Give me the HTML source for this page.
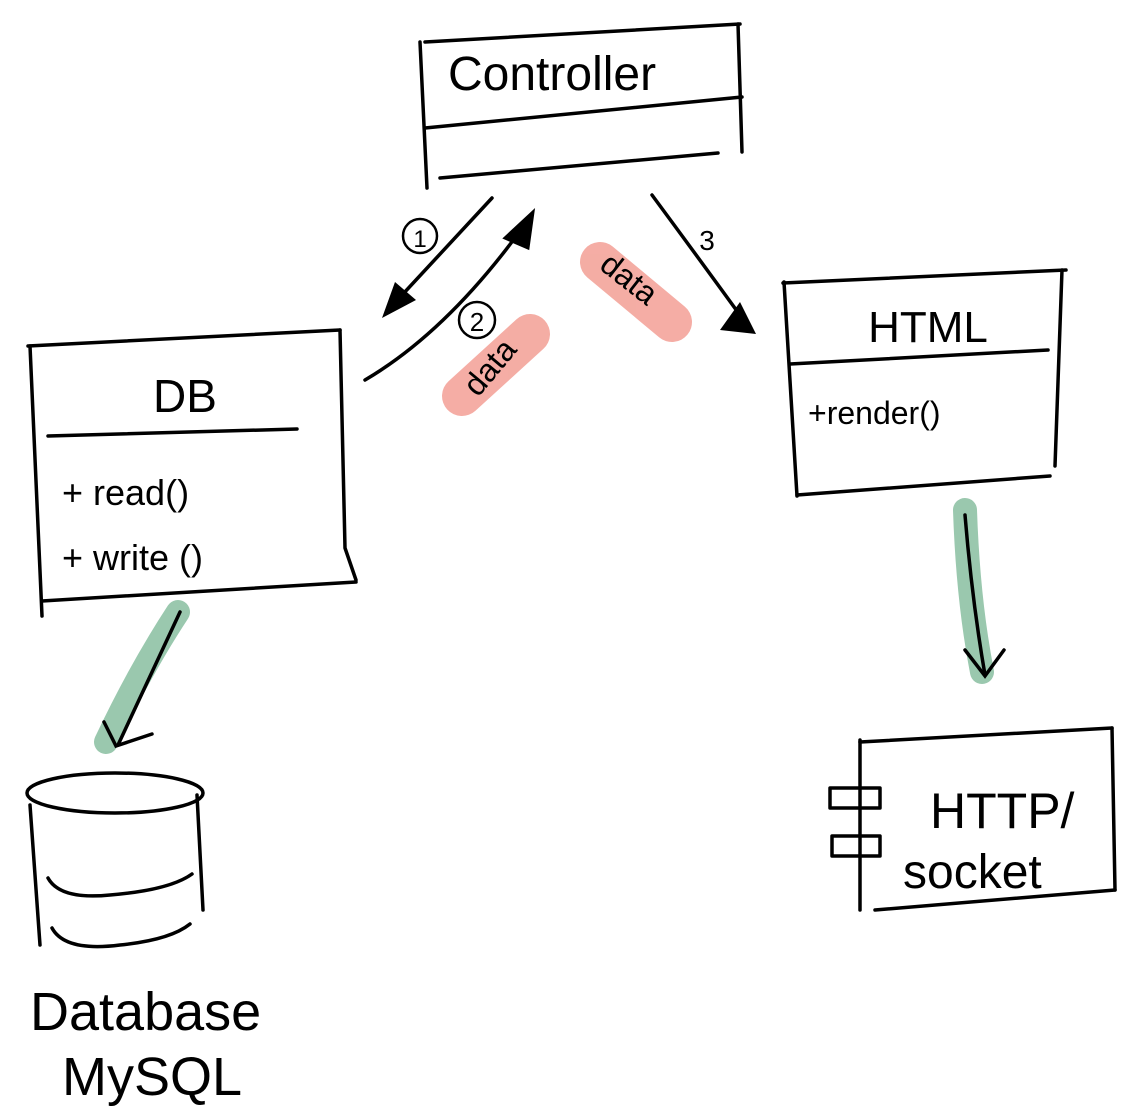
<!DOCTYPE html>
<html><head><meta charset="utf-8"><style>
html,body{margin:0;padding:0;background:#fff;}
svg{display:block}
text{font-family:"Liberation Sans",sans-serif;fill:#000}
</style></head><body>
<svg width="1144" height="1120" viewBox="0 0 1144 1120" xmlns="http://www.w3.org/2000/svg">
<rect width="1144" height="1120" fill="#fff"/>
<g fill="none" stroke="#000" stroke-width="3.5" stroke-linecap="round" stroke-linejoin="round">
<path d="M420 42 L427 188"/>
<path d="M425 42 L740 24"/>
<path d="M738 24 L742 152"/>
<path d="M425 128 L742 97"/>
<path d="M440 178 L718 153"/>
<path d="M783 283 L1066 270"/>
<path d="M784 282 L797 496"/>
<path d="M1062 270 L1055 466"/>
<path d="M790 364 L1048 350"/>
<path d="M797 495 L1050 476"/>
<path d="M28 346 L340 330"/>
<path d="M30 346 L42 616"/>
<path d="M340 330 L345 548 L356 580"/>
<path d="M48 436 L297 429"/>
<path d="M42 601 L356 582"/>
<path d="M492 198 L390 308"/>
<path d="M365 380 Q450 330 528 220"/>
<path d="M652 195 Q700 260 745 322"/>
<circle cx="420" cy="236" r="17" stroke-width="2.5"/>
<circle cx="477" cy="320" r="18" stroke-width="2.5"/>
<ellipse cx="115" cy="793" rx="88" ry="20"/>
<path d="M30 805 L40 945"/>
<path d="M197 795 L203 910"/>
<path d="M48 878 Q60 900 110 895 Q170 890 192 874"/>
<path d="M52 928 Q65 952 120 945 Q170 940 190 924"/>
<path d="M860 740 L860 910"/>
<path d="M860 742 L1112 728"/>
<path d="M1112 728 L1115 890"/>
<path d="M875 910 L1115 890"/>
<rect x="830" y="788" width="50" height="20"/>
<rect x="832" y="836" width="48" height="20"/>
</g>
<polygon points="382,318 395,282 416,300" fill="#000"/>
<polygon points="533,212 505,238 528,248" fill="#000" stroke="#000" stroke-width="3"/>
<polygon points="756,334 720,330 740,302" fill="#000"/>
<g stroke="#f4a9a0" stroke-width="40" stroke-linecap="round" fill="none" opacity="0.95">
<path d="M462 396 L530 334"/>
<path d="M600 262 L672 322"/>
</g>
<g stroke="#9ac8ae" stroke-width="24" stroke-linecap="round" fill="none">
<path d="M178 612 Q140 670 106 742"/>
<path d="M965 510 Q968 600 982 672"/>
</g>
<g fill="none" stroke="#000" stroke-width="3.5" stroke-linecap="round">
<path d="M180 612 L118 745"/>
<path d="M104 722 L116 746 L152 734"/>
<path d="M965 515 Q972 600 985 675"/>
<path d="M965 650 L985 676 L1004 650"/>
</g>
<text x="448" y="90" font-size="48">Controller</text>
<text x="928" y="342" font-size="44" text-anchor="middle">HTML</text>
<text x="808" y="424" font-size="32">+render()</text>
<text x="185" y="412" font-size="46" text-anchor="middle">DB</text>
<text x="62" y="505" font-size="36">+ read()</text>
<text x="62" y="570" font-size="36">+ write ()</text>
<text x="420" y="247" font-size="24" text-anchor="middle">1</text>
<text x="477" y="331" font-size="26" text-anchor="middle">2</text>
<text x="707" y="250" font-size="28" text-anchor="middle">3</text>
<text x="0" y="0" font-size="32" transform="translate(478 398) rotate(-50)">data</text>
<text x="0" y="0" font-size="32" transform="translate(598 268) rotate(38)">data</text>
<text x="30" y="1030" font-size="54">Database</text>
<text x="62" y="1095" font-size="54">MySQL</text>
<text x="930" y="828" font-size="50">HTTP/</text>
<text x="903" y="888" font-size="48">socket</text>
</svg>
</body></html>
